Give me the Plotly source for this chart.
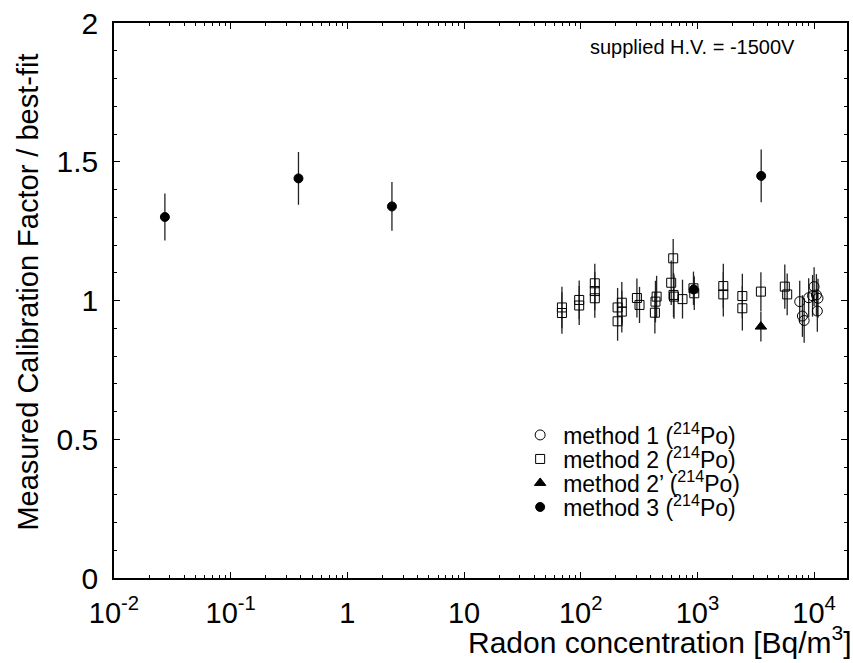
import plotly.graph_objects as go

# ---- data ----
# method 1 (open circles)
m1_x = [7530, 7940, 8220, 8990, 9700, 10000, 10470, 10800, 10660]
m1_y = [0.996, 0.944, 0.928, 1.010, 1.017, 1.050, 1.020, 1.008, 0.962]
m1_e = [0.075, 0.075, 0.080, 0.070, 0.075, 0.070, 0.075, 0.070, 0.075]

# method 2 (open squares)
m2_x = [69, 69, 97, 97, 132, 132, 132, 207, 207, 225, 225, 303, 319, 447, 437, 432,
        596, 620, 624, 630, 745, 925, 940, 1667, 1667, 2427, 2427, 3500, 5610, 5880]
m2_y = [0.975, 0.955, 1.002, 0.982, 1.062, 1.034, 1.008, 0.975, 0.925, 0.992, 0.960,
        1.009, 0.984, 1.014, 0.996, 0.956, 1.064, 1.152, 1.020, 1.014, 1.005, 1.044,
        1.026, 1.052, 1.022, 1.016, 0.972, 1.032, 1.050, 1.022]
m2_e = [0.075, 0.075, 0.070, 0.070, 0.070, 0.070, 0.070, 0.070, 0.070, 0.075, 0.075,
        0.070, 0.065, 0.075, 0.075, 0.075, 0.080, 0.070, 0.080, 0.080, 0.070, 0.060,
        0.060, 0.080, 0.080, 0.080, 0.080, 0.070, 0.080, 0.075]

# method 2' (filled triangle)
m2p_x = [3500]
m2p_y = [0.906]
m2p_e = [0.054]

# method 3 (filled circles)
m3_x = [0.0273, 0.381, 2.41, 930, 3520]
m3_y = [1.301, 1.440, 1.339, 1.040, 1.449]
m3_e = [0.085, 0.095, 0.088, 0.050, 0.095]

x_tickvals = [0.01, 0.1, 1, 10, 100, 1000, 10000]
x_ticktext = ["10<sup>-2</sup>", "10<sup>-1</sup>", "1", "10",
              "10<sup>2</sup>", "10<sup>3</sup>", "10<sup>4</sup>"]
y_tickvals = [0, 0.5, 1, 1.5, 2]
y_ticktext = ["0", "0.5", "1", "1.5", "2"]

FONT = "Liberation Sans, Arial, sans-serif"
ERR = dict(type="data", thickness=1.3, width=0, color="#222222")

fig = go.Figure()

# one legend box per entry so the rows can sit as close as in the reference
legend_rows = [0.2577, 0.2144, 0.1712, 0.1279]
legend_names = ["legend", "legend2", "legend3", "legend4"]


def add(i, name, xs, ys, es, symbol, size):
    fig.add_trace(go.Scatter(
        x=xs, y=ys, mode="markers", name=name, legend=legend_names[i],
        error_y=dict(array=es, **ERR),
        marker=dict(symbol=symbol, size=size, color="black",
                    line=dict(color="black", width=1)),
    ))


add(0, "method 1 (<sup>214</sup>Po)", m1_x, m1_y, m1_e, "circle-open", 10)
add(1, "method 2 (<sup>214</sup>Po)", m2_x, m2_y, m2_e, "square-open", 9)
add(2, "method 2’ (<sup>214</sup>Po)", m2p_x, m2p_y, m2p_e, "triangle-up", 10)
add(3, "method 3 (<sup>214</sup>Po)", m3_x, m3_y, m3_e, "circle", 9)

minor_x = [m * 10 ** d for d in range(-2, 5) for m in range(2, 10)]

fig.update_xaxes(
    type="log", range=[-2, 4.282],
    tickvals=x_tickvals, ticktext=x_ticktext,
    ticks="inside", ticklen=6, tickwidth=1, tickcolor="black",
    minor=dict(tickvals=minor_x, ticks="inside", ticklen=3, tickcolor="black", showgrid=False),
    showline=True, linecolor="black", linewidth=1.5, mirror="ticks",
    showgrid=False, zeroline=False,
    tickfont=dict(family=FONT, size=29, color="black"),
    ticklabelstandoff=8,
)
fig.update_yaxes(
    range=[0, 2],
    tickvals=y_tickvals, ticktext=y_ticktext,
    ticks="inside", ticklen=6, tickwidth=1, tickcolor="black",
    minor=dict(dtick=0.1, ticks="inside", ticklen=3, tickcolor="black", showgrid=False),
    showline=True, linecolor="black", linewidth=1.5, mirror="ticks",
    showgrid=False, zeroline=False,
    tickfont=dict(family=FONT, size=30, color="black"),
    ticklabelstandoff=8,
)

fig.add_annotation(xref="paper", yref="paper", x=1.01, y=-0.112,
                   text="Radon concentration [Bq/m<sup>3</sup>]", showarrow=False,
                   xanchor="right", yanchor="middle",
                   font=dict(family=FONT, size=30, color="black"))
fig.add_annotation(xref="paper", yref="paper", x=-0.117, y=0.948,
                   text="Measured Calibration Factor / best-fit", showarrow=False,
                   textangle=-90, xanchor="center", yanchor="top",
                   font=dict(family=FONT, size=29, color="black"))
fig.add_annotation(xref="paper", yref="paper", x=0.789, y=0.957,
                   text="supplied H.V. = -1500V", showarrow=False,
                   xanchor="center", yanchor="middle",
                   font=dict(family=FONT, size=20, color="black"))

leg_common = dict(x=0.55, xanchor="left", yanchor="middle",
                  bgcolor="rgba(0,0,0,0)", itemwidth=36,
                  font=dict(family=FONT, size=23, color="black"))
layout_legends = {name: dict(y=yy, **leg_common) for name, yy in zip(legend_names, legend_rows)}

fig.update_layout(
    width=853, height=663,
    margin=dict(l=114, r=4, t=23, b=85),
    paper_bgcolor="white", plot_bgcolor="white",
    font=dict(family=FONT, color="black"),
    showlegend=True,
    **layout_legends,
)

fig.write_html("out.html")
